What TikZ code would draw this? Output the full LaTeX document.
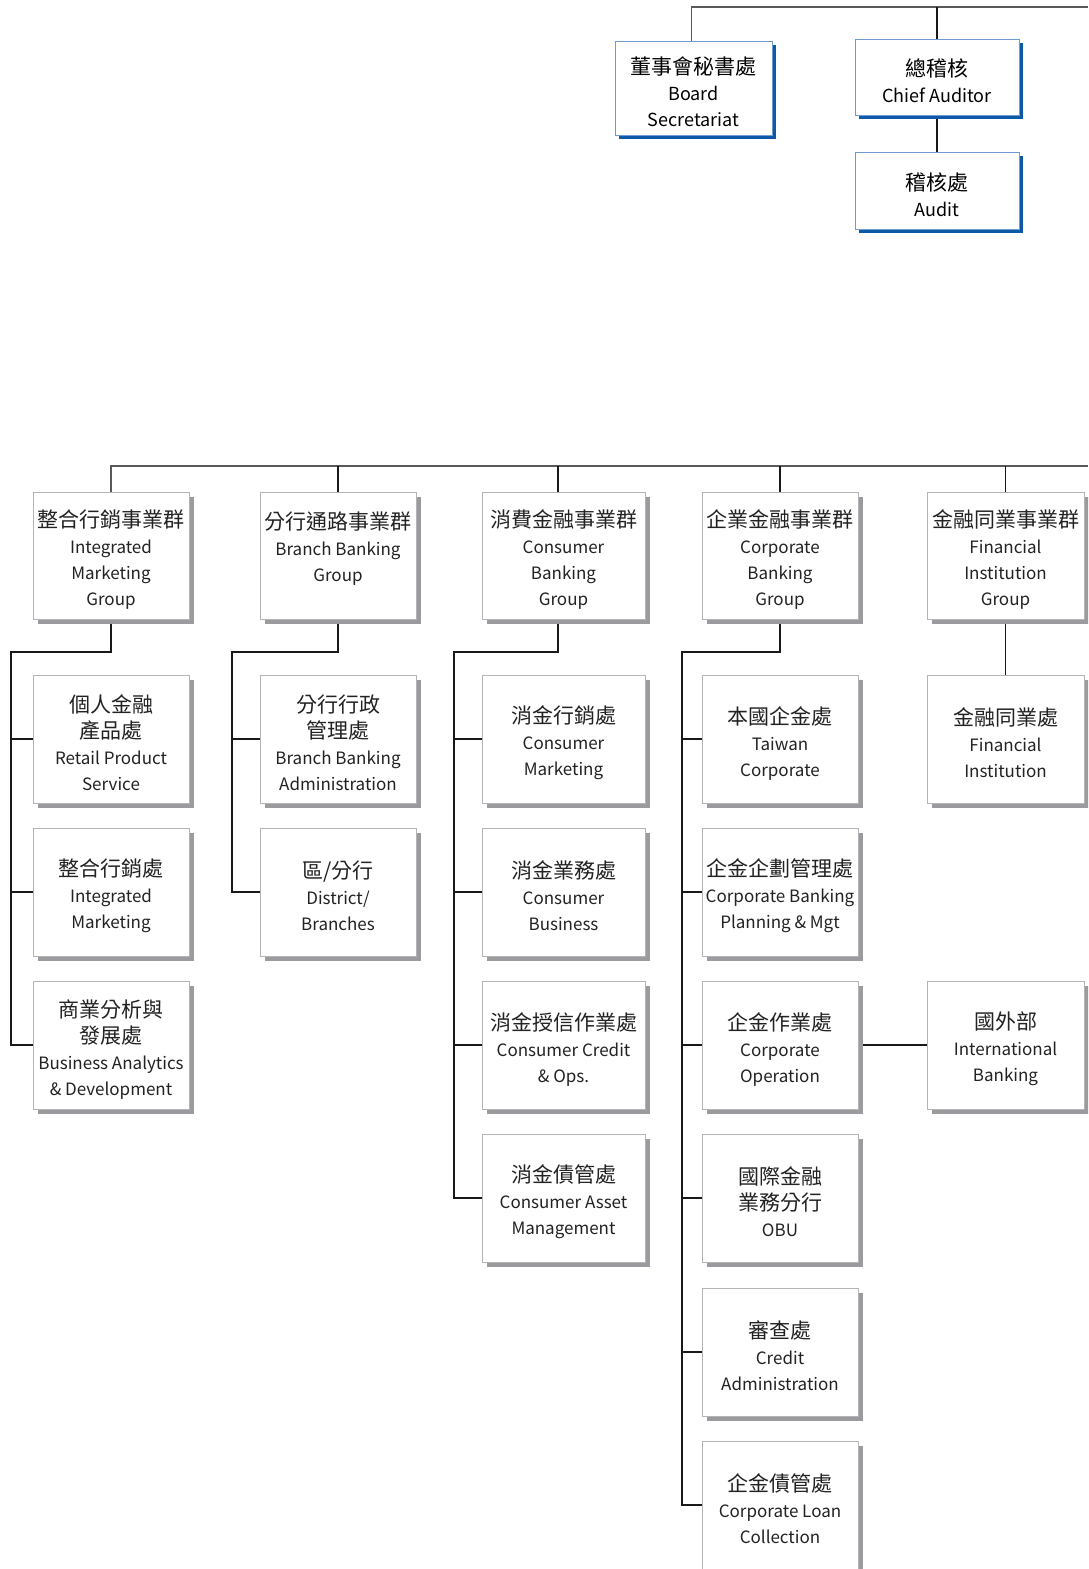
\documentclass[tikz,border=0pt]{standalone}
\usepackage{fontspec}
\setmainfont{Noto Sans CJK TC}
\usetikzlibrary{shadows}
\pgfdeclarelayer{bg}
\pgfsetlayers{bg,main}
\definecolor{shgray}{HTML}{9A9A9F}
\definecolor{bxgray}{HTML}{B4B4B4}
\definecolor{shblue}{HTML}{0E58A8}
\definecolor{bxblue}{HTML}{6E9CD2}
\definecolor{txt}{HTML}{222222}
\newcommand{\zh}[1]{{\fontsize{21}{26}\selectfont #1}}
\newcommand{\zt}[1]{{\fontsize{21}{26}\selectfont\rule{0pt}{26pt}#1}}
\tikzset{
  gbox/.style={draw=bxgray, line width=0.9pt, fill=white, inner sep=0pt, align=center,
    text=txt, font=\fontsize{17}{26}\selectfont,
    drop shadow={shadow xshift=4.5pt, shadow yshift=-4.5pt, fill=shgray, opacity=1}},
  bbox/.style={draw=bxblue, line width=1pt, fill=white, inner sep=0pt, align=center,
    text=black, font=\fontsize{18}{26}\selectfont,
    drop shadow={shadow xshift=4pt, shadow yshift=-4pt, fill=shblue, opacity=1}},
  conn/.style={draw=black!90, line width=1.2pt},
  bus/.style={draw=black!65, line width=1.5pt}
}
\begin{document}
\begin{tikzpicture}[x=1pt,y=-1pt]
\useasboundingbox (0,0) rectangle (1088,1569);
\clip (0,0) rectangle (1088,1569);
% top boxes
\node[bbox, minimum width=157pt, minimum height=94pt] (bs) at (693.5,88) {\zt{董事會秘書處}\\Board\\Secretariat};
\node[bbox, minimum width=164pt, minimum height=76pt] (ca) at (937,77) {\zt{總稽核}\\Chief Auditor};
\node[bbox, minimum width=164pt, minimum height=77pt] (au) at (937,190.5) {\zt{稽核處}\\Audit};
% groups
\node[gbox, minimum width=156pt, minimum height=127pt] (g1) at (111,555.5) {\zt{整合行銷事業群}\\Integrated\\Marketing\\Group};
\node[gbox, minimum width=156pt, minimum height=127pt] (g2) at (338,555.5) {\zt{分行通路事業群}\\Branch Banking\\Group\\\mbox{}};
\node[gbox, minimum width=163pt, minimum height=127pt] (g3) at (563.5,555.5) {\zt{消費金融事業群}\\Consumer\\Banking\\Group};
\node[gbox, minimum width=156pt, minimum height=127pt] (g4) at (780,555.5) {\zt{企業金融事業群}\\Corporate\\Banking\\Group};
\node[gbox, minimum width=157pt, minimum height=127pt] (g5) at (1005.5,555.5) {\zt{金融同業事業群}\\Financial\\Institution\\Group};
% column 1
\node[gbox, minimum width=156pt, minimum height=128pt] (c1a) at (111,739) {\zt{個人金融}\\\zh{產品處}\\Retail Product\\Service};
\node[gbox, minimum width=156pt, minimum height=128pt] (c1b) at (111,892) {\zt{整合行銷處}\\Integrated\\Marketing};
\node[gbox, minimum width=156pt, minimum height=128pt] (c1c) at (111,1045) {\zt{商業分析與}\\\zh{發展處}\\Business Analytics\\\& Development};
% column 2
\node[gbox, minimum width=156pt, minimum height=128pt] (c2a) at (338,739) {\zt{分行行政}\\\zh{管理處}\\Branch Banking\\Administration};
\node[gbox, minimum width=156pt, minimum height=128pt] (c2b) at (338,892) {\zt{區/分行}\\District/\\Branches};
% column 3
\node[gbox, minimum width=163pt, minimum height=128pt] (c3a) at (563.5,739) {\zt{消金行銷處}\\Consumer\\Marketing};
\node[gbox, minimum width=163pt, minimum height=128pt] (c3b) at (563.5,892) {\zt{消金業務處}\\Consumer\\Business};
\node[gbox, minimum width=163pt, minimum height=128pt] (c3c) at (563.5,1045) {\zt{消金授信作業處}\\Consumer Credit\\\& Ops.};
\node[gbox, minimum width=163pt, minimum height=128pt] (c3d) at (563.5,1198) {\zt{消金債管處}\\Consumer Asset\\Management};
% column 4
\node[gbox, minimum width=156pt, minimum height=128pt] (c4a) at (780,739) {\zt{本國企金處}\\Taiwan\\Corporate};
\node[gbox, minimum width=156pt, minimum height=128pt] (c4b) at (780,892) {\zt{企金企劃管理處}\\Corporate Banking\\Planning \& Mgt};
\node[gbox, minimum width=156pt, minimum height=128pt] (c4c) at (780,1045) {\zt{企金作業處}\\Corporate\\Operation};
\node[gbox, minimum width=156pt, minimum height=128pt] (c4d) at (780,1198) {\zt{國際金融}\\\zh{業務分行}\\OBU};
\node[gbox, minimum width=156pt, minimum height=128pt] (c4e) at (780,1352) {\zt{審查處}\\Credit\\Administration};
\node[gbox, minimum width=156pt, minimum height=128pt] (c4f) at (780,1505) {\zt{企金債管處}\\Corporate Loan\\Collection};
% column 5
\node[gbox, minimum width=157pt, minimum height=128pt] (c5a) at (1005.5,739) {\zt{金融同業處}\\Financial\\Institution};
\node[gbox, minimum width=157pt, minimum height=128pt] (intl) at (1005.5,1045) {\zt{國外部}\\International\\Banking};
% coordinates
\coordinate (topR) at (1088,7);
\coordinate (busR) at (1088,466);
\coordinate (bst) at ([xshift=-2pt]bs.north);
\coordinate (g3t) at ([xshift=-5.5pt]g3.north);
\coordinate (g3b) at ([xshift=-5.5pt]g3.south);
\coordinate (j1) at (11,652);
\coordinate (j2) at (232,652);
\coordinate (j3) at (454,652);
\coordinate (j4) at (682,652);
\begin{pgfonlayer}{bg}
% top
\draw[bus] (bst) |- (topR);
\draw[conn] (ca.north) -- (ca.north |- topR);
\draw[conn] (ca.south) -- (au.north);
% main bus
\draw[bus] (g1.north) |- (busR);
\draw[conn] (g2.north) -- (g2.north |- busR);
\draw[conn] (g3t) -- (g3t |- busR);
\draw[conn] (g4.north) -- (g4.north |- busR);
\draw[conn] (g5.north) -- (g5.north |- busR);
% column 1
\draw[conn] (g1.south) |- (j1) |- (c1c.west);
\draw[conn] (j1 |- c1a.west) -- (c1a.west);
\draw[conn] (j1 |- c1b.west) -- (c1b.west);
% column 2
\draw[conn] (g2.south) |- (j2) |- (c2b.west);
\draw[conn] (j2 |- c2a.west) -- (c2a.west);
% column 3
\draw[conn] (g3b) |- (j3) |- (c3d.west);
\draw[conn] (j3 |- c3a.west) -- (c3a.west);
\draw[conn] (j3 |- c3b.west) -- (c3b.west);
\draw[conn] (j3 |- c3c.west) -- (c3c.west);
% column 4
\draw[conn] (g4.south) |- (j4) |- (c4f.west);
\draw[conn] (j4 |- c4a.west) -- (c4a.west);
\draw[conn] (j4 |- c4b.west) -- (c4b.west);
\draw[conn] (j4 |- c4c.west) -- (c4c.west);
\draw[conn] (j4 |- c4d.west) -- (c4d.west);
\draw[conn] (j4 |- c4e.west) -- (c4e.west);
% column 5
\draw[conn] (g5.south) -- (c5a.north);
\draw[conn] (c4c.east) -- (intl.west);
\end{pgfonlayer}
\end{tikzpicture}
\end{document}
